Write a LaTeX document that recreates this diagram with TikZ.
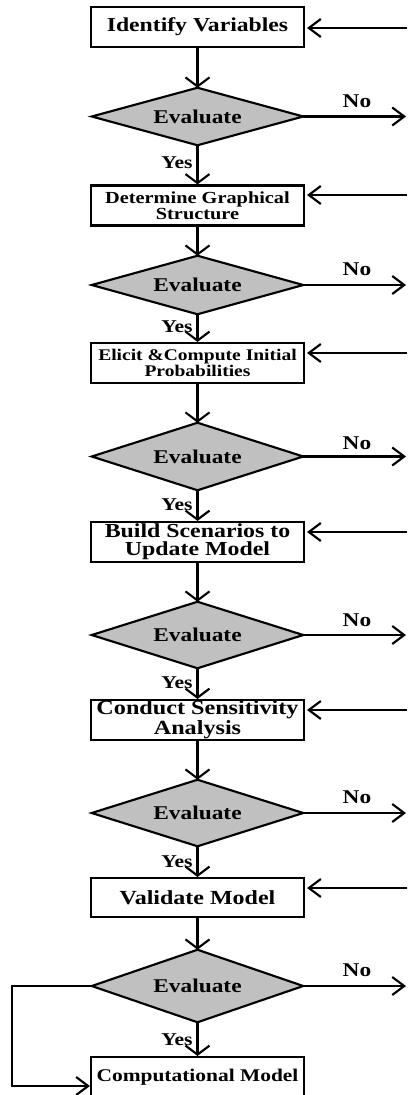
\documentclass[tikz,border=0pt]{standalone}
\usepackage{fontspec}
\setmainfont{Liberation Serif}[FakeStretch=1.2]
\usetikzlibrary{arrows.meta,backgrounds}
\definecolor{decgray}{RGB}{192,192,192}
\newcommand{\fsz}[2]{\bfseries\fontsize{#1}{#2}\selectfont}
\tikzset{
  stepbox/.style={draw, line width=1.6pt, fill=white, minimum width=159.75pt,
    minimum height=30pt, inner sep=0pt, align=center},
  decision/.style={rectangle, minimum width=158.25pt, inner sep=0pt, font=\fsz{14.6}{16}},
  rhomb/.style={draw, line width=1.6pt, fill=decgray, line join=miter},
  flow/.style={line width=1.6pt, -{Straight Barb[length=6.75pt,width=18pt]}},
  hflow/.style={line width=1.6pt, -{Straight Barb[length=9pt,width=13.5pt]}},
  nolbl/.style={inner sep=0pt, font=\fsz{14.6}{16}},
  yeslbl/.style={inner sep=0pt, font=\fsz{13.5}{15}},
}
\begin{document}
\begin{tikzpicture}[x=0.75pt,y=-0.75pt]
\useasboundingbox (0,0) rectangle (407,1095);

% process steps and decisions
\node[stepbox, font=\fsz{14.8}{16}] (b1) at (197.5,27) {Identify Variables};
\node[decision, minimum height=42.75pt] (d1) at (197.5,116.5) {Evaluate};
\node[stepbox, font=\fsz{12.7}{12}] (b2) at (197.5,205.5) {Determine Graphical\\Structure};
\node[decision, minimum height=43.5pt] (d2) at (197.5,285) {Evaluate};
\node[stepbox, font=\fsz{12.2}{10.5}] (b3) at (197.5,363) {Elicit \&Compute Initial\\Probabilities};
\node[decision, minimum height=50.25pt] (d3) at (197.5,456.5) {Evaluate};
\node[stepbox, font=\fsz{14.9}{13.5}] (b4) at (197.5,542) {Build Scenarios to\\Update Model};
\node[decision, minimum height=49.5pt] (d4) at (197.5,635) {Evaluate};
\node[stepbox, font=\fsz{15.1}{13.5}] (b5) at (197.5,720) {Conduct Sensitivity\\Analysis};
\node[decision, minimum height=49.5pt] (d5) at (197.5,813) {Evaluate};
\node[stepbox, font=\fsz{15}{16}, minimum height=29.25pt] (b6) at (197.5,897.5) {Validate Model};
\node[decision, minimum height=54pt] (d6) at (197.5,986) {Evaluate};
\node[stepbox, font=\fsz{13.4}{15}] (b7) at (197.5,1077) {Computational Model};

% grey rhombi behind the decision labels
\begin{scope}[on background layer]
  \foreach \d in {d1,d2,d3,d4,d5,d6}
    \draw[rhomb] (\d.north) -- (\d.east) -- (\d.south) -- (\d.west) -- cycle;
\end{scope}

% main flow
\draw[flow] (b1) -- (d1);
\draw[flow] (d1) -- (b2);
\draw[flow] (b2) -- (d2);
\draw[flow] (d2) -- (b3);
\draw[flow] (b3) -- (d3);
\draw[flow] (d3) -- (b4);
\draw[flow] (b4) -- (d4);
\draw[flow] (d4) -- (b5);
\draw[flow] (b5) -- (d5);
\draw[flow] (d5) -- (b6);
\draw[flow] (b6) -- (d6);
\draw[flow] (d6) -- (b7);

% Yes labels
\node[yeslbl] (y1) at (177,163) {Yes};
\node[yeslbl] (y2) at (177,327) {Yes};
\node[yeslbl] (y3) at (177,505) {Yes};
\node[yeslbl] (y4) at (177,683) {Yes};
\node[yeslbl] (y5) at (177,862) {Yes};
\node[yeslbl] (y6) at (177,1040) {Yes};

% No branches leaving to the right
\foreach \d/\yy/\ly in {d1/116.5/101, d2/285/269, d3/456.5/443, d4/635/620, d5/813/797, d6/986/970}{
  \coordinate (n-\d) at (406,\yy);
  \draw[hflow] (\d.east) -- (n-\d);
  \node[nolbl] (no-\d) at (357,\ly) {No};
}

% returns entering from the right
\foreach \b/\yy in {b1/28, b2/195, b3/353, b4/532, b5/710, b6/888}{
  \coordinate (r-\b) at (407,\yy);
  \draw[hflow, shorten >=1.5pt] (r-\b) -- (\b.east |- r-\b);
}

% bypass on the left
\coordinate (l1) at (12,986);
\coordinate (l2) at (12,1086);
\draw[hflow] (d6.west) -- (l1) -- (l2) -- (b7.west |- l2);
\end{tikzpicture}
\end{document}
